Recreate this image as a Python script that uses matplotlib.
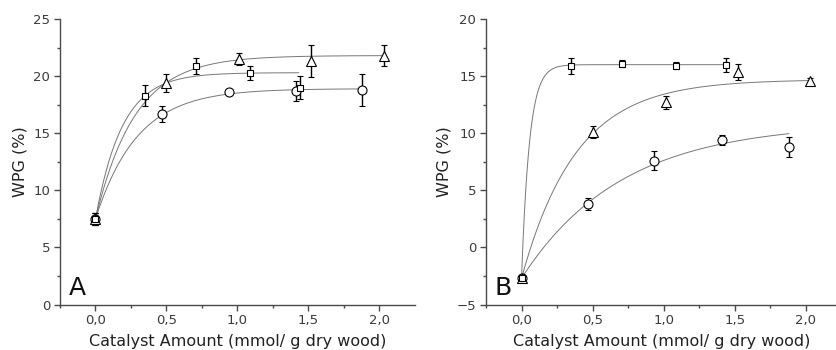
import numpy as np
import matplotlib
matplotlib.use("Agg")
import matplotlib.pyplot as plt

# ---------------- data: panel A ----------------
a_sq_x = [0.0, 0.35, 0.71, 1.09, 1.44]
a_sq_y = [7.5, 18.3, 20.9, 20.3, 19.0]
a_sq_e = [0.5, 0.9, 0.7, 0.6, 1.0]
a_tr_x = [0.0, 0.50, 1.01, 1.52, 2.03]
a_tr_y = [7.5, 19.4, 21.5, 21.3, 21.8]
a_tr_e = [0.5, 0.8, 0.5, 1.4, 0.9]
a_ci_x = [0.0, 0.47, 0.94, 1.41, 1.88]
a_ci_y = [7.5, 16.7, 18.6, 18.7, 18.8]
a_ci_e = [0.5, 0.7, 0.2, 0.9, 1.4]
# exponential-rise fit parameters: (start, plateau, rate, x_end)
a_fit_sq = (7.5, 20.3, 5.3, 1.43)
a_fit_tr = (7.5, 21.8, 3.6, 2.03)
a_fit_ci = (7.5, 18.9, 3.4, 1.88)

# ---------------- data: panel B ----------------
b_sq_x = [0.0, 0.35, 0.71, 1.09, 1.44]
b_sq_y = [-2.7, 15.9, 16.1, 15.9, 16.0]
b_sq_e = [0.3, 0.7, 0.3, 0.3, 0.6]
b_tr_x = [0.0, 0.50, 1.02, 1.52, 2.03]
b_tr_y = [-2.7, 10.1, 12.7, 15.4, 14.6]
b_tr_e = [0.3, 0.5, 0.6, 0.7, 0.2]
b_ci_x = [0.0, 0.47, 0.93, 1.41, 1.88]
b_ci_y = [-2.7, 3.8, 7.6, 9.4, 8.8]
b_ci_e = [0.3, 0.5, 0.8, 0.4, 0.9]
b_fit_sq = (-2.7, 16.0, 18.0, 1.44)
b_fit_tr = (-2.7, 14.7, 2.6, 2.03)
b_fit_ci = (-2.7, 10.9, 1.42, 1.88)

x_ticks = [0.0, 0.5, 1.0, 1.5, 2.0]
x_ticklabels = ["0,0", "0,5", "1,0", "1,5", "2,0"]
a_yticks = [0, 5, 10, 15, 20, 25]
b_yticks = [-5, 0, 5, 10, 15, 20]
xlabel = "Catalyst Amount (mmol/ g dry wood)"
ylabel = "WPG (%)"

plt.rcParams['font.family'] = ['DejaVu Sans']
fig = plt.figure(figsize=(8.37, 3.5), dpi=100)
W, H = 837, 350
axA = fig.add_axes([60 / W, 1 - 304.5 / H, (415 - 60) / W, (304.5 - 19) / H])
axB = fig.add_axes([486 / W, 1 - 304.5 / H, (837 - 486) / W, (304.5 - 19) / H])

axcol = '#4a4a4a'


def fit_curve(ax, p):
    y0, a, k, xe = p
    xs = np.linspace(0, xe, 300)
    ys = a - (a - y0) * np.exp(-k * xs)
    ax.plot(xs, ys, color='#777777', lw=0.7, zorder=1)


def series(ax, x, y, e, marker, ms):
    ax.errorbar(x, y, yerr=e, fmt=marker, ms=ms, mfc='white', mec='black',
                mew=0.8, ecolor='black', elinewidth=1.0, capsize=2.5,
                capthick=1.0, zorder=3)


def style(ax, ylim, yticks, letter, xmax):
    ax.set_xlim(-0.25, xmax)
    ax.set_ylim(*ylim)
    ax.set_xticks(x_ticks)
    ax.set_xticklabels(x_ticklabels)
    ax.set_xticks(np.arange(-0.25, xmax, 0.25), minor=True)
    ax.set_yticks(yticks)
    ax.set_yticks(np.arange(ylim[0], ylim[1] + 0.01, 2.5), minor=True)
    for s in ['top', 'right']:
        ax.spines[s].set_visible(False)
    for s in ['left', 'bottom']:
        ax.spines[s].set_color(axcol)
        ax.spines[s].set_linewidth(1.0)
    ax.tick_params(which='major', direction='out', length=4, width=1.0,
                   color=axcol, labelsize=9.5, labelcolor='#3a3a3a', pad=3)
    ax.tick_params(which='minor', direction='out', length=2.5, width=1.0,
                   color=axcol)
    ax.set_xlabel(xlabel, fontsize=11.5, color='#222222', labelpad=5)
    ax.set_ylabel(ylabel, fontsize=11.5, color='#222222', labelpad=4)
    ax.text(0.025, 0.015, letter, transform=ax.transAxes, fontsize=18,
            color='#111111', ha='left', va='bottom')
    ax.patch.set_alpha(0)


for p in (a_fit_sq, a_fit_tr, a_fit_ci):
    fit_curve(axA, p)
series(axA, a_ci_x, a_ci_y, a_ci_e, 'o', 6.5)
series(axA, a_tr_x, a_tr_y, a_tr_e, '^', 7)
series(axA, a_sq_x, a_sq_y, a_sq_e, 's', 5)
style(axA, (0, 25), a_yticks, 'A', 2.25)

for p in (b_fit_sq, b_fit_tr, b_fit_ci):
    fit_curve(axB, p)
series(axB, b_ci_x, b_ci_y, b_ci_e, 'o', 6.5)
series(axB, b_tr_x, b_tr_y, b_tr_e, '^', 7)
series(axB, b_sq_x, b_sq_y, b_sq_e, 's', 5)
style(axB, (-5, 20), b_yticks, 'B', 2.22)

fig.savefig('out.png', dpi=100)
